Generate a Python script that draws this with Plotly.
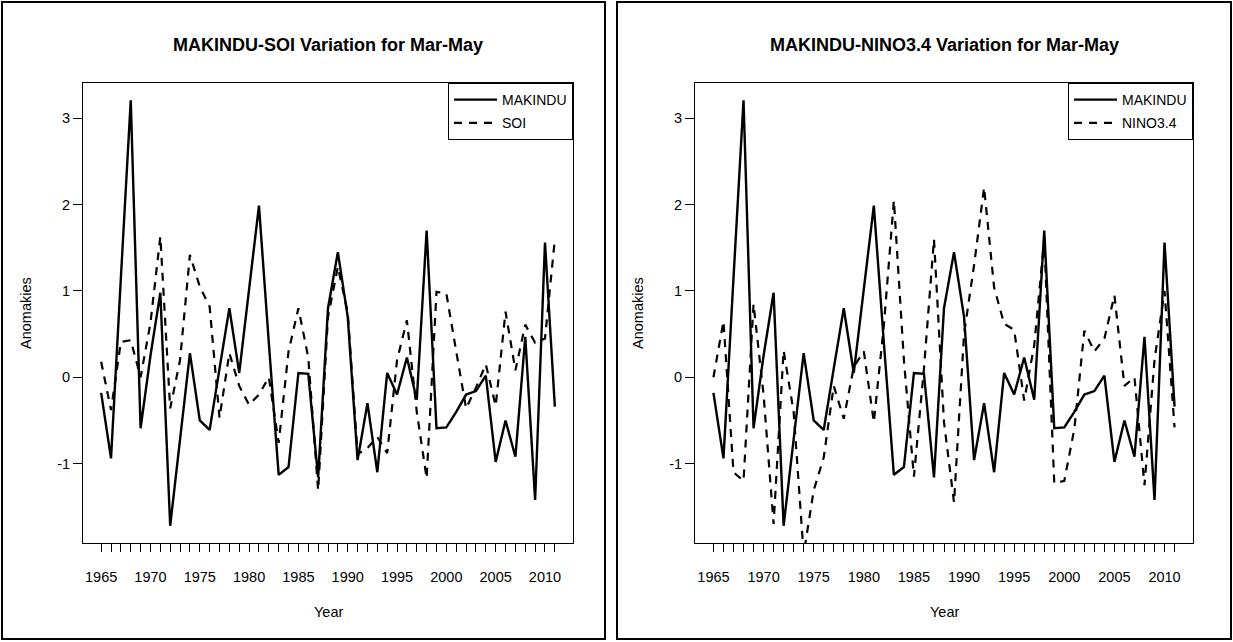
import plotly.graph_objects as go

years = list(range(1965, 2012))

makindu = [-0.18, -0.94, 1.15, 3.21, -0.59, 0.25, 0.98, -1.72, -0.72, 0.28,
           -0.50, -0.61, 0.10, 0.80, 0.05, 1.00, 1.99, 0.40, -1.13, -1.04,
           0.05, 0.04, -1.16, 0.80, 1.45, 0.70, -0.96, -0.30, -1.10, 0.05,
           -0.20, 0.23, -0.26, 1.70, -0.59, -0.58, -0.40, -0.20, -0.16, 0.02,
           -0.98, -0.50, -0.92, 0.47, -1.42, 1.56, -0.34]

soi = [0.18, -0.38, 0.41, 0.43, 0.00, 0.63, 1.63, -0.36, 0.20, 1.42,
       1.05, 0.82, -0.47, 0.28, -0.10, -0.32, -0.20, 0.00, -0.76, 0.30,
       0.80, 0.23, -1.31, 0.70, 1.28, 0.75, -0.89, -0.82, -0.69, -0.88,
       0.20, 0.66, -0.40, -1.17, 0.99, 0.97, 0.30, -0.36, -0.12, 0.15,
       -0.33, 0.76, 0.08, 0.61, 0.40, 0.45, 1.60]

nino34 = [0.00, 0.65, -1.10, -1.20, 0.85, -0.20, -1.70, 0.31, -0.40, -2.05,
          -1.31, -0.93, -0.10, -0.48, 0.12, 0.30, -0.52, 0.60, 2.05, 0.20,
          -1.15, 0.10, 1.60, -0.52, -1.45, 0.50, 1.30, 2.20, 1.04, 0.62,
          0.55, -0.27, 0.37, 1.60, -1.23, -1.20, -0.60, 0.54, 0.30, 0.45,
          0.95, -0.10, 0.00, -1.25, 0.20, 1.00, -0.58]

x_tick_labels = [str(y) if y % 5 == 0 else "" for y in years]
y_ticks = [-1, 0, 1, 2, 3]

titles = ["MAKINDU-SOI Variation for Mar-May", "MAKINDU-NINO3.4 Variation for Mar-May"]
x_title = "Year"
y_title = "Anomakies"

W, H = 1233, 642
FONT = "Liberation Sans, Arial, sans-serif"

def px(x):
    return x / W

def py(y):
    return 1 - y / H

# plot boxes (pixels)
box1 = (83, 573)
box2 = (695, 1193)
top, bottom = 83, 543

fig = go.Figure()

fig.add_trace(go.Scatter(x=years, y=makindu, mode="lines", name="MAKINDU",
                         line=dict(color="black", width=2.4), xaxis="x", yaxis="y",
                         legend="legend", legendgroup="a"))
fig.add_trace(go.Scatter(x=years, y=soi, mode="lines", name="SOI",
                         line=dict(color="black", width=2.2, dash="8px,7px"), xaxis="x", yaxis="y",
                         legend="legend", legendgroup="b"))
fig.add_trace(go.Scatter(x=years, y=makindu, mode="lines", name="MAKINDU",
                         line=dict(color="black", width=2.4), xaxis="x2", yaxis="y2",
                         legend="legend2", legendgroup="c"))
fig.add_trace(go.Scatter(x=years, y=nino34, mode="lines", name="NINO3.4",
                         line=dict(color="black", width=2.2, dash="8px,7px"), xaxis="x2", yaxis="y2",
                         legend="legend2", legendgroup="d"))

xrange = [1963.16, 2012.84]
yrange = [-1.92, 3.41]

def xaxis(domain, anchor):
    return dict(domain=domain, anchor=anchor, range=xrange, tickmode="array",
                tickvals=years, ticktext=x_tick_labels, ticks="outside", ticklen=8,
                tickcolor="black", tickwidth=1, showline=True, mirror=True,
                linecolor="black", linewidth=1, showgrid=False, zeroline=False,
                tickfont=dict(family=FONT, size=14.5, color="black"),
                ticklabelstandoff=13)

def yaxis(anchor):
    return dict(domain=[py(bottom), py(top)], anchor=anchor, range=yrange,
                tickmode="array", tickvals=y_ticks, ticktext=[str(v) for v in y_ticks],
                ticksuffix="\u00a0\u00a0\u00a0",
                ticks="outside", ticklen=9, tickcolor="black", tickwidth=1,
                showline=True, mirror=True, linecolor="black", linewidth=1,
                showgrid=False, zeroline=False,
                tickfont=dict(family=FONT, size=14.5, color="black"))

legend_common = dict(xanchor="right", yanchor="top", bordercolor="black", borderwidth=1,
                     bgcolor="white", font=dict(family=FONT, size=14, color="black"),
                     tracegroupgap=2, itemwidth=43)

fig.update_layout(
    width=W, height=H, margin=dict(l=0, r=0, t=0, b=0),
    paper_bgcolor="white", plot_bgcolor="white",
    xaxis=xaxis([px(box1[0]), px(box1[1])], "y"),
    yaxis=yaxis("x"),
    xaxis2=xaxis([px(box2[0]), px(box2[1])], "y2"),
    yaxis2=yaxis("x2"),
    legend=dict(x=px(box1[1]), y=py(top), **legend_common),
    legend2=dict(x=px(box2[1]), y=py(top), **legend_common),
    showlegend=True,
)

# panel frames
fig.add_shape(type="rect", xref="paper", yref="paper", x0=px(2), x1=px(605), y0=py(639), y1=py(2),
              line=dict(color="black", width=2))
fig.add_shape(type="rect", xref="paper", yref="paper", x0=px(617), x1=px(1231), y0=py(639), y1=py(2),
              line=dict(color="black", width=2))

for (b, t) in zip([box1, box2], titles):
    cx = (b[0] + b[1]) / 2
    fig.add_annotation(text="<b>" + t + "</b>", x=px(cx), y=py(45), xref="paper", yref="paper",
                       showarrow=False, xanchor="center", yanchor="middle",
                       font=dict(family=FONT, size=18, color="black"))
    fig.add_annotation(text=x_title, x=px(cx), y=py(612), xref="paper", yref="paper",
                       showarrow=False, xanchor="center", yanchor="middle",
                       font=dict(family=FONT, size=14.5, color="black"))

for xpos in [26, 638]:
    fig.add_annotation(text=y_title, x=px(xpos), y=py(313), xref="paper", yref="paper",
                       showarrow=False, xanchor="center", yanchor="middle", textangle=-90,
                       font=dict(family=FONT, size=14.5, color="black"))

fig.write_html("out.html")
